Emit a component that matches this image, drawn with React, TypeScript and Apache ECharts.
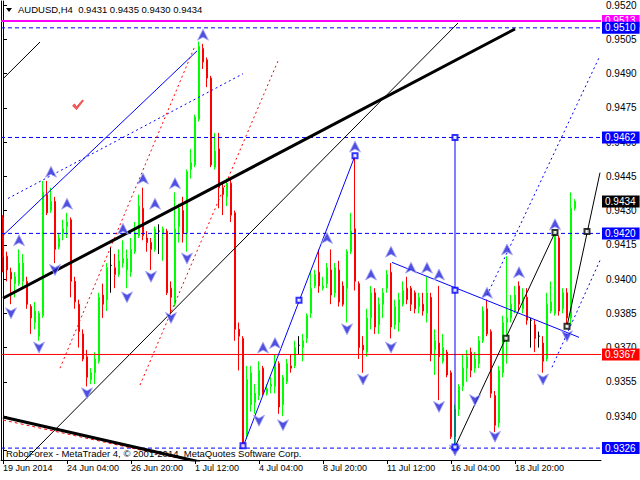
import React, { useEffect, useRef } from "react";
import * as echarts from "echarts";

// ---- candle data (H4 bars, index 0 = 19 Jun 2014 12:00) ----
const opens = [
  0.9427, 0.9410, 0.9403, 0.9398, 0.9398, 0.9399, 0.9399, 0.9388, 0.9381, 0.9375,
  0.9384, 0.9437, 0.9430, 0.9434, 0.9414, 0.9420, 0.9423, 0.9426, 0.9399, 0.9389,
  0.9376, 0.9366, 0.9356, 0.9359, 0.9364, 0.9393, 0.9391, 0.9406, 0.9405, 0.9402,
  0.9407, 0.9404, 0.9403, 0.9412, 0.9419, 0.9431, 0.9418, 0.9416, 0.9413, 0.9421,
  0.9420, 0.9421, 0.9396, 0.9389, 0.9423, 0.9430, 0.9420, 0.9448, 0.9450, 0.9470,
  0.9501, 0.9496, 0.9488, 0.9449, 0.9457, 0.9440, 0.9436, 0.9442, 0.9429, 0.9378,
  0.9374, 0.9332, 0.9345, 0.9346, 0.9349, 0.9361, 0.9350, 0.9353, 0.9353, 0.9363,
  0.9345, 0.9355, 0.9362, 0.9362, 0.9371, 0.9370, 0.9374, 0.9385, 0.9397, 0.9403,
  0.9396, 0.9398, 0.9404, 0.9394, 0.9404, 0.9397, 0.9396, 0.9412, 0.9422, 0.9398,
  0.9371, 0.9368, 0.9383, 0.9394, 0.9380, 0.9389, 0.9396, 0.9403, 0.9380, 0.9381,
  0.9389, 0.9396, 0.9396, 0.9394, 0.9388, 0.9389, 0.9385, 0.9392, 0.9369, 0.9372,
  0.9364, 0.9368, 0.9359, 0.9331, 0.9343, 0.9353, 0.9361, 0.9368, 0.9361, 0.9363,
  0.9373, 0.9387, 0.9377, 0.9349, 0.9337, 0.9359, 0.9381, 0.9383, 0.9386, 0.9397,
  0.9387, 0.9392, 0.9382, 0.9380, 0.9375, 0.9372, 0.9365, 0.9386, 0.9385, 0.9418,
  0.9387, 0.9394, 0.9383, 0.9431,
];
const highs = [
  0.9428, 0.9412, 0.9405, 0.9403, 0.9413, 0.9411, 0.9401, 0.9389, 0.9390, 0.9386,
  0.9443, 0.9443, 0.9440, 0.9436, 0.9420, 0.9426, 0.9429, 0.9427, 0.9401, 0.9391,
  0.9378, 0.9369, 0.9361, 0.9368, 0.9394, 0.9398, 0.9407, 0.9414, 0.9411, 0.9413,
  0.9417, 0.9413, 0.9418, 0.9425, 0.9437, 0.9440, 0.9421, 0.9418, 0.9423, 0.9424,
  0.9423, 0.9422, 0.9399, 0.9438, 0.9433, 0.9436, 0.9448, 0.9457, 0.9472, 0.9504,
  0.9503, 0.9497, 0.9489, 0.9464, 0.9464, 0.9442, 0.9444, 0.9444, 0.9430, 0.9381,
  0.9375, 0.9362, 0.9362, 0.9354, 0.9364, 0.9362, 0.9354, 0.9357, 0.9367, 0.9364,
  0.9358, 0.9365, 0.9367, 0.9373, 0.9375, 0.9376, 0.9385, 0.9403, 0.9404, 0.9413,
  0.9401, 0.9407, 0.9413, 0.9407, 0.9408, 0.9399, 0.9413, 0.9429, 0.9454, 0.9399,
  0.9375, 0.9387, 0.9397, 0.9396, 0.9392, 0.9396, 0.9404, 0.9407, 0.9391, 0.9394,
  0.9399, 0.9401, 0.9397, 0.9395, 0.9394, 0.9394, 0.9401, 0.9394, 0.9378, 0.9397,
  0.9376, 0.9369, 0.9360, 0.9345, 0.9354, 0.9367, 0.9369, 0.9370, 0.9368, 0.9375,
  0.9388, 0.9391, 0.9378, 0.9351, 0.9362, 0.9384, 0.9410, 0.9393, 0.9397, 0.9399,
  0.9396, 0.9396, 0.9383, 0.9382, 0.9377, 0.9375, 0.9394, 0.9399, 0.9421, 0.9419,
  0.9396, 0.9396, 0.9438, 0.9435,
];
const lows = [
  0.9403, 0.9399, 0.9389, 0.9392, 0.9397, 0.9396, 0.9387, 0.9376, 0.9378, 0.9373,
  0.9383, 0.9428, 0.9429, 0.9407, 0.9413, 0.9417, 0.9418, 0.9392, 0.9387, 0.9370,
  0.9364, 0.9353, 0.9354, 0.9354, 0.9363, 0.9383, 0.9386, 0.9394, 0.9396, 0.9401,
  0.9405, 0.9396, 0.9401, 0.9411, 0.9418, 0.9417, 0.9412, 0.9404, 0.9412, 0.9411,
  0.9408, 0.9393, 0.9385, 0.9388, 0.9416, 0.9416, 0.9412, 0.9444, 0.9449, 0.9469,
  0.9492, 0.9484, 0.9449, 0.9448, 0.9431, 0.9428, 0.9432, 0.9425, 0.9373, 0.9360,
  0.9326, 0.9330, 0.9342, 0.9341, 0.9347, 0.9349, 0.9349, 0.9350, 0.9350, 0.9341,
  0.9340, 0.9354, 0.9359, 0.9361, 0.9367, 0.9364, 0.9372, 0.9383, 0.9396, 0.9394,
  0.9395, 0.9396, 0.9389, 0.9392, 0.9388, 0.9388, 0.9381, 0.9411, 0.9395, 0.9365,
  0.9359, 0.9366, 0.9378, 0.9376, 0.9376, 0.9383, 0.9394, 0.9374, 0.9378, 0.9377,
  0.9388, 0.9389, 0.9386, 0.9385, 0.9385, 0.9384, 0.9381, 0.9364, 0.9358, 0.9347,
  0.9363, 0.9357, 0.9330, 0.9326, 0.9340, 0.9351, 0.9355, 0.9357, 0.9359, 0.9361,
  0.9372, 0.9375, 0.9348, 0.9333, 0.9335, 0.9357, 0.9363, 0.9381, 0.9385, 0.9386,
  0.9385, 0.9380, 0.9370, 0.9368, 0.9370, 0.9359, 0.9364, 0.9385, 0.9384, 0.9384,
  0.9385, 0.9380, 0.9380, 0.9430,
];
const closes = [
  0.9410, 0.9404, 0.9400, 0.9401, 0.9407, 0.9407, 0.9389, 0.9383, 0.9386, 0.9385,
  0.9438, 0.9429, 0.9434, 0.9413, 0.9418, 0.9422, 0.9425, 0.9399, 0.9390, 0.9377,
  0.9365, 0.9357, 0.9359, 0.9365, 0.9392, 0.9389, 0.9405, 0.9406, 0.9402, 0.9408,
  0.9409, 0.9409, 0.9413, 0.9420, 0.9432, 0.9419, 0.9416, 0.9413, 0.9422, 0.9421,
  0.9422, 0.9394, 0.9392, 0.9422, 0.9431, 0.9420, 0.9447, 0.9451, 0.9471, 0.9502,
  0.9495, 0.9488, 0.9450, 0.9456, 0.9440, 0.9437, 0.9442, 0.9428, 0.9378, 0.9375,
  0.9328, 0.9356, 0.9359, 0.9350, 0.9360, 0.9350, 0.9352, 0.9354, 0.9363, 0.9344,
  0.9357, 0.9363, 0.9361, 0.9370, 0.9371, 0.9373, 0.9384, 0.9396, 0.9402, 0.9397,
  0.9397, 0.9405, 0.9393, 0.9405, 0.9390, 0.9389, 0.9412, 0.9421, 0.9399, 0.9370,
  0.9369, 0.9383, 0.9394, 0.9379, 0.9389, 0.9394, 0.9402, 0.9379, 0.9388, 0.9391,
  0.9395, 0.9391, 0.9389, 0.9387, 0.9392, 0.9386, 0.9394, 0.9367, 0.9373, 0.9366,
  0.9370, 0.9358, 0.9331, 0.9343, 0.9353, 0.9361, 0.9366, 0.9360, 0.9365, 0.9373,
  0.9386, 0.9376, 0.9350, 0.9336, 0.9360, 0.9381, 0.9383, 0.9389, 0.9393, 0.9389,
  0.9392, 0.9382, 0.9382, 0.9374, 0.9375, 0.9364, 0.9389, 0.9390, 0.9419, 0.9386,
  0.9394, 0.9383, 0.9431, 0.9434,
];

// ---- axes ----
const SLOTS = 150;
const X_LABEL_STEP = 16;
const xTickLabels = [
  "19 Jun 2014", "24 Jun 04:00", "26 Jun 20:00", "1 Jul 12:00", "4 Jul 04:00",
  "8 Jul 20:00", "11 Jul 12:00", "16 Jul 04:00", "18 Jul 20:00",
];
const yTickValues = [
  0.952, 0.9505, 0.949, 0.9475, 0.946, 0.9445, 0.943, 0.9415, 0.94, 0.9385, 0.937,
  0.9355, 0.934, 0.9325,
];
const Y_MIN = 0.932079;
const Y_MAX = 0.952175;

// ---- horizontal levels ----
const magentaLevel = 0.9513;
const blueLevels = [0.951, 0.9462, 0.942, 0.9326];
const redLevel = 0.9367;

// ---- drawn objects, in [bar index, price] ----
const thickTrend = [[0, 0.93916], [128, 0.95095]];
const thickLower = [[0, 0.93396], [49.25, 0.93199]];
const redDashLower = [[0, 0.93383], [43.5, 0.93217]];
const thinBlackLong = [[5.25, 0.93203], [113.75, 0.95121]];
const thinBlackShort = [[0.25, 0.94881], [9.25, 0.95038]];
const blueThin = [[0, 0.94191], [48.5, 0.94999]];
const blueDotted = [[1.25, 0.94353], [60, 0.94899]];
const redDottedA = [[14.25, 0.9361], [48, 0.95021]];
const redDottedB = [[34.25, 0.93536], [68.75, 0.94955]];
const zigBlue = [[60, 0.93265], [88, 0.9454]];
const vertBlue = [[113, 0.9462], [113, 0.9326]];
const descBlue = [[97.25, 0.94073], [144, 0.93745]];
const zigBlack1 = [[113, 0.93265], [138, 0.94204]];
const zigBlack2 = [[141, 0.93793], [149.25, 0.94466]];
const blueDotRightA = [[121, 0.93929], [149.25, 0.94978]];
const blueDotRightB = [[137.25, 0.93614], [149.25, 0.94082]];

const upArrows = [
  [4, 0.9417], [12, 0.9447], [16, 0.9433], [30, 0.9422], [35, 0.9444], [38, 0.9433],
  [43, 0.9442], [50, 0.9507], [65, 0.937], [68, 0.9372], [81, 0.9418], [88, 0.9458],
  [92, 0.9402], [97, 0.9412], [102, 0.9405], [106, 0.9405], [109, 0.9402], [121, 0.9394],
  [126, 0.9413], [129, 0.9403], [138, 0.9424],
];
const downArrows = [
  [2, 0.9385], [9, 0.937], [13, 0.9404], [21, 0.935], [31, 0.9392], [37, 0.9401],
  [42, 0.9383], [46, 0.9409], [64, 0.9338], [70, 0.9336], [86, 0.9378], [90, 0.9356],
  [97, 0.937], [109, 0.9344], [113, 0.9325], [118, 0.9347], [123, 0.9331], [135, 0.9356],
  [141, 0.9375],
];
const blueSquares = [[60, 0.9327], [74, 0.93907], [88, 0.9454], [113, 0.9462], [113, 0.93951], [113, 0.93265]];
const blackSquares = [[125.75, 0.93741], [138, 0.94204], [141, 0.93793], [146, 0.94208]];
const checkMarks = [[18.75, 0.94763]];

const FONT = "Liberation Sans";

function buildCategories(): string[] {
  const months = ["Jan", "Feb", "Mar", "Apr", "May", "Jun", "Jul", "Aug", "Sep", "Oct", "Nov", "Dec"];
  const out: string[] = [];
  let t = Date.UTC(2014, 5, 19, 12);
  while (out.length < SLOTS) {
    const d = new Date(t);
    const wd = d.getUTCDay();
    if (wd !== 0 && wd !== 6) {
      const hh = String(d.getUTCHours()).padStart(2, "0");
      out.push(`${d.getUTCDate()} ${months[d.getUTCMonth()]} ${hh}:00`);
    }
    t += 4 * 3600 * 1000;
  }
  return out;
}

function lineSeries(data: number[][], color: string, width: number, type: any, z = 5) {
  return {
    type: "line",
    xAxisIndex: 1,
    yAxisIndex: 0,
    data,
    symbol: "none",
    showSymbol: false,
    silent: true,
    clip: true,
    z,
    lineStyle: { color, width, type },
  };
}

function levelSeries(value: number, color: string, width: number, type: any, boxColor: string, z: number) {
  return {
    type: "line",
    xAxisIndex: 1,
    yAxisIndex: 0,
    data: [[-0.5, value], [SLOTS - 0.5, value]],
    symbol: "none",
    showSymbol: false,
    silent: true,
    clip: false,
    z,
    lineStyle: { color, width, type, opacity: width > 0 ? 1 : 0 },
    endLabel: {
      show: true,
      distance: 1,
      formatter: () => value.toFixed(4),
      color: "#fff",
      backgroundColor: boxColor,
      padding: [1, 4, 1, 3],
      fontFamily: FONT,
      fontSize: 10,
      lineHeight: 10,
    },
  };
}

export default function App() {
  const ref = useRef<HTMLDivElement>(null);

  useEffect(() => {
    if (!ref.current) return;
    const chart = echarts.init(ref.current, undefined, { renderer: "svg" });
    const categories = buildCategories();
    const showIdx = (i: number) => i % X_LABEL_STEP === 0 && i / X_LABEL_STEP < xTickLabels.length;

    const candleData = opens.map((o, i) => {
      const item: any = { value: [o, closes[i], lows[i], highs[i]] };
      if (o === closes[i]) {
        item.itemStyle = {
          color: "#000", color0: "#000", borderColor: "#000", borderColor0: "#000", borderColorDoji: "#000",
        };
      }
      return item;
    });

    const last = opens.length - 1;
    const titleText = `AUDUSD,H4  ${opens[last].toFixed(4)} ${highs[last].toFixed(4)} ${lows[last].toFixed(4)} ${closes[last].toFixed(4)}`;

    const option: any = {
      animation: false,
      backgroundColor: "#ffffff",
      grid: { left: 1, right: 39, top: 0, bottom: 20, containLabel: false },
      xAxis: [
        {
          type: "category",
          data: categories,
          boundaryGap: true,
          axisLine: { show: true, lineStyle: { color: "#000", width: 1 } },
          axisTick: { show: true, alignWithLabel: true, interval: (i: number) => showIdx(i), length: 4, lineStyle: { color: "#000" } },
          axisLabel: {
            interval: (i: number) => showIdx(i),
            formatter: (_v: string, i: number) => (showIdx(i) ? xTickLabels[i / X_LABEL_STEP] : ""),
            align: "left",
            color: "#000",
            fontFamily: FONT,
            fontSize: 9,
            margin: 3,
          },
          splitLine: { show: false },
        },
        { type: "value", min: -0.5, max: SLOTS - 0.5, show: false },
      ],
      yAxis: [
        {
          type: "value",
          position: "right",
          min: Y_MIN,
          max: Y_MAX,
          scale: true,
          axisLine: { show: true, lineStyle: { color: "#000", width: 1 } },
          axisTick: { show: true, customValues: yTickValues, length: 4, lineStyle: { color: "#000" } },
          axisLabel: {
            customValues: yTickValues,
            formatter: (v: number) => v.toFixed(4),
            color: "#000",
            fontFamily: FONT,
            fontSize: 10,
            margin: 5,
          },
          splitLine: { show: false },
        },
        {
          type: "value",
          position: "left",
          min: Y_MIN,
          max: Y_MAX,
          axisLine: { show: true, lineStyle: { color: "#000", width: 1 } },
          axisTick: { show: false },
          axisLabel: { show: false },
          splitLine: { show: false },
        },
      ],
      graphic: [
        { type: "polygon", shape: { points: [[6, 8], [12, 8], [9, 12]] }, style: { fill: "#000" }, z: 100 },
        {
          type: "text",
          left: 18,
          top: 4,
          style: { text: titleText, fill: "#000", font: `9.5px "${FONT}"` },
          z: 100,
        },
        {
          type: "text",
          left: 6,
          top: 448,
          style: { text: "RoboForex - MetaTrader 4, © 2001-2014, MetaQuotes Software Corp.", fill: "#000", font: `9.5px "${FONT}"` },
          z: 100,
        },
      ],
      series: [
        {
          type: "candlestick",
          xAxisIndex: 0,
          yAxisIndex: 0,
          data: candleData,
          barWidth: 2,
          silent: true,
          z: 2,
          itemStyle: {
            color: "#00FF00",
            color0: "#FF0000",
            borderColor: "#00FF00",
            borderColor0: "#FF0000",
            borderColorDoji: "#000000",
            borderWidth: 1,
          },
        },
        levelSeries(magentaLevel, "#FF00FF", 2, "solid", "#FF00FF", 3),
        ...blueLevels.map((v) => levelSeries(v, "#0000FF", 1, [4, 3], "#0000FF", 4)),
        levelSeries(redLevel, "#FF0000", 1, "solid", "#FF0000", 4),
        levelSeries(closes[last], "#000000", 0, "solid", "#000000", 4),
        lineSeries(thickTrend, "#000", 3, "solid", 6),
        lineSeries(thickLower, "#000", 3, "solid", 6),
        lineSeries(redDashLower, "#FF0000", 1, [3, 3]),
        lineSeries(thinBlackLong, "#000", 1, "solid"),
        lineSeries(thinBlackShort, "#000", 1, "solid"),
        lineSeries(blueThin, "#0000FF", 1, "solid"),
        lineSeries(blueDotted, "#0000FF", 1, [2, 3]),
        lineSeries(redDottedA, "#FF0000", 1, [2, 3]),
        lineSeries(redDottedB, "#FF0000", 1, [2, 3]),
        lineSeries(zigBlue, "#0000FF", 1, "solid"),
        lineSeries(vertBlue, "#0000FF", 1, "solid"),
        lineSeries(descBlue, "#0000FF", 1, "solid"),
        lineSeries(zigBlack1, "#000", 1, "solid"),
        lineSeries(zigBlack2, "#000", 1, "solid"),
        lineSeries(blueDotRightA, "#0000FF", 1, [2, 3]),
        lineSeries(blueDotRightB, "#0000FF", 1, [2, 3]),
        {
          type: "scatter",
          xAxisIndex: 1,
          yAxisIndex: 0,
          data: upArrows,
          symbol: "path://M6,0 L12,11 L6,8 L0,11 Z",
          symbolSize: [11, 11],
          silent: true,
          z: 8,
          itemStyle: { color: "#2424D8", borderColor: "#A8A8F8", borderWidth: 1 },
        },
        {
          type: "scatter",
          xAxisIndex: 1,
          yAxisIndex: 0,
          data: downArrows,
          symbol: "path://M0,0 L6,3 L12,0 L6,11 Z",
          symbolSize: [11, 11],
          silent: true,
          z: 8,
          itemStyle: { color: "#2424D8", borderColor: "#A8A8F8", borderWidth: 1 },
        },
        {
          type: "scatter",
          xAxisIndex: 1,
          yAxisIndex: 0,
          data: blueSquares,
          symbol: "emptyRect",
          symbolSize: 5,
          silent: true,
          z: 9,
          itemStyle: { color: "#0000FF", borderWidth: 1 },
        },
        {
          type: "scatter",
          xAxisIndex: 1,
          yAxisIndex: 0,
          data: blackSquares,
          symbol: "emptyRect",
          symbolSize: 5,
          silent: true,
          z: 9,
          itemStyle: { color: "#000", borderWidth: 1 },
        },
        {
          type: "scatter",
          xAxisIndex: 1,
          yAxisIndex: 0,
          data: checkMarks,
          symbol: "path://M0,6 L2,4 L4,7 L10,0 L11,1 L4,10 Z",
          symbolSize: [11, 10],
          silent: true,
          z: 8,
          itemStyle: { color: "#FF3030", borderColor: "#C00000", borderWidth: 0.5 },
        },
      ],
    };

    chart.setOption(option);
    return () => chart.dispose();
  }, []);

  return (
    <div
      ref={ref}
      style={{ position: "fixed", left: 0, top: 0, width: 640, height: 480, background: "#fff" }}
    />
  );
}
